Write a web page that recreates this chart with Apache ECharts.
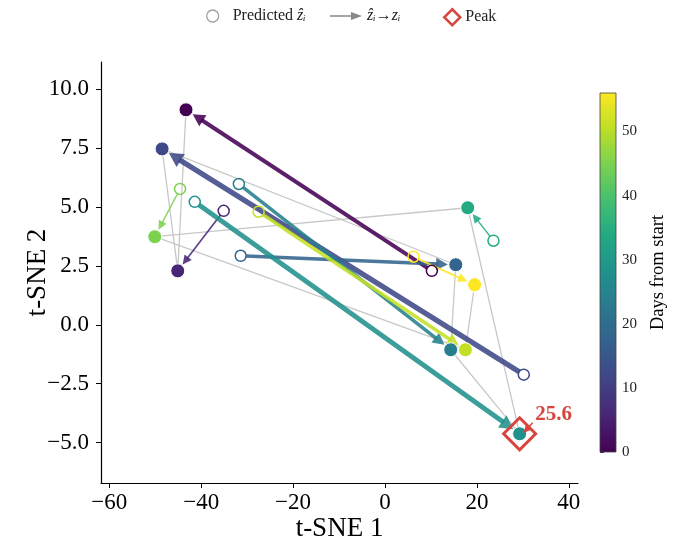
<!DOCTYPE html>
<html>
<head>
<meta charset="utf-8">
<script src="https://cdn.jsdelivr.net/npm/echarts@6/dist/echarts.min.js"></script>
<style>
  html, body { margin: 0; padding: 0; background: #fff; }
  #chart { width: 686px; height: 546px; }
</style>
</head>
<body>
<div id="chart"></div>
<script>
// 时间顺序的数据 (actual z_i, predicted ẑ_i)
const days    = [0, 6, 12, 18, 24, 28, 34, 45, 51, 56];
const actualX = [-43.3, -45.1, -48.5, 15.4, 14.3, 29.3, 18.0, -50.1, 17.5, 19.5];
const actualY = [9.13, 2.29, 7.47, 2.55, -1.06, -4.63, 4.97, 3.74, -1.06, 1.70];
const predX   = [10.2, -35.1, 30.2, -31.4, -31.8, -41.4, 23.6, -44.6, -27.5, 6.2];
const predY   = [2.29, 4.84, -2.12, 2.93, 5.98, 5.22, 3.57, 5.77, 4.80, 2.89];
const peakIndex = 5;
const peakLabel = '25.6';
const xTicks = [-60, -40, -20, 0, 20, 40];
const yTicks = [-5, -2.5, 0, 2.5, 5, 7.5, 10];
const dayMax = 56;

const FONT = '"Liberation Serif", "DejaVu Serif", serif';
const PEAK_RED = '#d6463f';

// viridis
const viridis = ['#440154', '#482475', '#414487', '#355f8d', '#2a788e', '#21918c',
                 '#22a884', '#44bf70', '#7ad151', '#bddf26', '#fde725'];
function hex2rgb(h) {
    return [parseInt(h.slice(1, 3), 16), parseInt(h.slice(3, 5), 16), parseInt(h.slice(5, 7), 16)];
}
function cmap(t, alpha) {
    t = Math.max(0, Math.min(1, t));
    const f = t * (viridis.length - 1);
    const i = Math.min(Math.floor(f), viridis.length - 2);
    const k = f - i;
    const a = hex2rgb(viridis[i]), b = hex2rgb(viridis[i + 1]);
    const c = a.map((v, j) => Math.round(v + (b[j] - v) * k));
    return alpha == null ? 'rgb(' + c.join(',') + ')' : 'rgba(' + c.join(',') + ',' + alpha + ')';
}
const colorOf = i => cmap(days[i] / dayMax);

const fmtMinus = (v, d) => (v < 0 ? '\u2212' : '') + Math.abs(v).toFixed(d);

const pairs = days.map((d, i) => [predX[i], predY[i], actualX[i], actualY[i], d]);

// 箭头 ẑ_i -> z_i
function renderArrow(params, api) {
    const p0 = api.coord([api.value(0), api.value(1)]);
    const p1 = api.coord([api.value(2), api.value(3)]);
    const dist = Math.hypot(api.value(2) - api.value(0), api.value(3) - api.value(1));
    const w = 1.1 + dist * 0.053;
    const dx = p1[0] - p0[0], dy = p1[1] - p0[1];
    const len = Math.hypot(dx, dy);
    const ux = dx / len, uy = dy / len;
    const s = [p0[0] + ux * 5, p0[1] + uy * 5];
    const tip = [p1[0] - ux * 8, p1[1] - uy * 8];
    const hl = 7 + w * 1.3, hw = 3 + w * 0.9;
    const base = [tip[0] - ux * hl, tip[1] - uy * hl];
    const color = cmap(api.value(4) / dayMax, 0.88);
    return {
        type: 'group',
        children: [{
            type: 'line',
            shape: { x1: s[0], y1: s[1], x2: base[0] + ux * 2, y2: base[1] + uy * 2 },
            style: { stroke: color, lineWidth: w }
        }, {
            type: 'polygon',
            shape: { points: [tip, [base[0] - uy * hw, base[1] + ux * hw], [base[0] + uy * hw, base[1] - ux * hw]] },
            style: { fill: color }
        }]
    };
}

// colorbar
function renderColorbar(params, api) {
    const p0 = api.coord([0, 0]);
    const p1 = api.coord([1, dayMax]);
    const stops = viridis.map((c, i) => ({ offset: i / (viridis.length - 1), color: c }));
    return {
        type: 'rect',
        shape: { x: p0[0], y: p1[1], width: p1[0] - p0[0], height: p0[1] - p1[1] },
        style: {
            fill: new echarts.graphic.LinearGradient(0, 1, 0, 0, stops),
            stroke: '#444', lineWidth: 0.8
        }
    };
}

// peak 标注的小箭头
function renderPeakArrow(params, api) {
    const p = api.coord([api.value(0), api.value(1)]);
    const tail = [p[0] + 13, p[1] - 11];
    const tip = [p[0] + 4, p[1] - 1];
    const ux = (tip[0] - tail[0]), uy = (tip[1] - tail[1]);
    const l = Math.hypot(ux, uy);
    const nx = ux / l, ny = uy / l;
    const base = [tip[0] - nx * 7, tip[1] - ny * 7];
    return {
        type: 'group',
        children: [{
            type: 'line',
            shape: { x1: tail[0], y1: tail[1], x2: base[0], y2: base[1] },
            style: { stroke: PEAK_RED, lineWidth: 1.5 }
        }, {
            type: 'polygon',
            shape: { points: [tip, [base[0] - ny * 3.5, base[1] + nx * 3.5], [base[0] + ny * 3.5, base[1] - nx * 3.5]] },
            style: { fill: PEAK_RED }
        }]
    };
}

const NAME_PRED = 'Predicted ẑᵢ';
const NAME_ARROW = 'ẑᵢ→zᵢ';
const NAME_PEAK = 'Peak';

const legendText = {
    fontFamily: FONT, fontSize: 16, color: '#222',
    rich: { m: { fontFamily: FONT, fontStyle: 'italic', fontSize: 16, color: '#222' } }
};
const legendFmt = name => {
    if (name === NAME_PRED) return 'Predicted {m|ẑᵢ}';
    if (name === NAME_ARROW) return '{m|ẑᵢ}→{m|zᵢ}';
    return name;
};

const option = {
    animation: false,
    textStyle: { fontFamily: FONT },
    legend: [{
        top: 3, left: 201, itemWidth: 30, itemHeight: 12,
        textStyle: legendText, formatter: legendFmt,
        data: [{ name: NAME_PRED, icon: 'circle', itemStyle: { color: 'rgba(0,0,0,0)', borderColor: '#888', borderWidth: 1.3 } }]
    }, {
        top: 3, left: 325, itemWidth: 32, itemHeight: 9,
        textStyle: legendText, formatter: legendFmt,
        data: [{ name: NAME_ARROW, icon: 'path://M0,3.3 H21 V0 L32,4 L21,8 V4.7 H0 Z', itemStyle: { color: '#888' } }]
    }, {
        top: 3, left: 438, itemWidth: 16, itemHeight: 16,
        textStyle: legendText, formatter: legendFmt,
        data: [{ name: NAME_PEAK, icon: 'diamond', itemStyle: { color: 'rgba(0,0,0,0)', borderColor: PEAK_RED, borderWidth: 2.5 } }]
    }],
    grid: [
        { left: 101, right: 108, top: 62, bottom: 63, outerBoundsMode: 'none' },
        { left: 600, width: 16, top: 93, bottom: 94, outerBoundsMode: 'none' }
    ],
    xAxis: [{
        type: 'value',
        min: -61.8, max: 42,
        name: 't-SNE 1', nameLocation: 'middle', nameGap: 32, nameMoveOverlap: false,
        nameTextStyle: { fontFamily: FONT, fontSize: 27, color: '#000' },
        axisLine: { onZero: false, lineStyle: { color: '#000', width: 1.2 } },
        axisTick: { show: true, length: 5, customValues: xTicks, lineStyle: { color: '#000' } },
        axisLabel: { customValues: xTicks, margin: 8, fontFamily: FONT, fontSize: 23, color: '#000', formatter: v => fmtMinus(v, 0) },
        splitLine: { show: false }
    }, {
        gridIndex: 1, type: 'value', min: 0, max: 1, show: false
    }],
    yAxis: [{
        type: 'value',
        min: -6.72, max: 11.16,
        name: 't-SNE 2', nameLocation: 'middle', nameGap: 50, nameRotate: 90, nameMoveOverlap: false,
        nameTextStyle: { fontFamily: FONT, fontSize: 27, color: '#000' },
        axisLine: { show: true, onZero: false, lineStyle: { color: '#000', width: 1.2 } },
        axisTick: { show: true, length: 5, customValues: yTicks, lineStyle: { color: '#000' } },
        axisLabel: { customValues: yTicks, margin: 12, fontFamily: FONT, fontSize: 23, color: '#000', formatter: v => fmtMinus(v, 1) },
        splitLine: { show: false }
    }, {
        gridIndex: 1, type: 'value', min: 0, max: dayMax, interval: 10, position: 'right',
        name: 'Days from start', nameLocation: 'middle', nameGap: 33, nameRotate: 90, nameMoveOverlap: false,
        nameTextStyle: { fontFamily: FONT, fontSize: 18.5, color: '#000' },
        axisLine: { show: false },
        axisTick: { show: true, length: 4, lineStyle: { color: '#333' } },
        axisLabel: { margin: 6, fontFamily: FONT, fontSize: 15, color: '#222', showMaxLabel: false },
        splitLine: { show: false }
    }],
    series: [{
        // 时间顺序连接
        type: 'line',
        name: 'trajectory',
        data: days.map((d, i) => [actualX[i], actualY[i]]),
        symbol: 'none',
        lineStyle: { color: '#c8c8c8', width: 1.3 },
        z: 1,
        silent: true
    }, {
        type: 'custom',
        name: NAME_ARROW,
        renderItem: renderArrow,
        data: pairs,
        encode: { x: [0, 2], y: [1, 3] },
        itemStyle: { color: '#888' },
        z: 2
    }, {
        type: 'scatter',
        name: NAME_PRED,
        symbol: 'circle',
        symbolSize: 11,
        data: days.map((d, i) => ({
            value: [predX[i], predY[i]],
            itemStyle: { color: 'rgba(255,255,255,0)', borderColor: colorOf(i), borderWidth: 1.5, opacity: 1 }
        })),
        z: 3
    }, {
        type: 'scatter',
        name: 'actual',
        symbol: 'circle',
        symbolSize: 14,
        data: days.map((d, i) => ({
            value: [actualX[i], actualY[i], d],
            itemStyle: { color: colorOf(i), borderColor: '#fff', borderWidth: 1, opacity: 1 }
        })),
        z: 4
    }, {
        type: 'scatter',
        name: NAME_PEAK,
        symbol: 'diamond',
        symbolSize: 32,
        itemStyle: { color: 'rgba(0,0,0,0)', borderColor: PEAK_RED, borderWidth: 3, opacity: 1 },
        label: {
            show: true, position: 'inside', offset: [34, -19],
            formatter: peakLabel,
            fontFamily: FONT, fontSize: 21, fontWeight: 'bold', color: PEAK_RED
        },
        data: [[actualX[peakIndex], actualY[peakIndex]]],
        z: 5
    }, {
        type: 'custom',
        name: 'peakArrow',
        renderItem: renderPeakArrow,
        data: [[actualX[peakIndex], actualY[peakIndex]]],
        z: 6,
        silent: true
    }, {
        type: 'custom',
        name: 'colorbar',
        xAxisIndex: 1, yAxisIndex: 1,
        renderItem: renderColorbar,
        data: [[0, 0]],
        silent: true
    }]
};

const chart = echarts.init(document.getElementById('chart'));
chart.setOption(option);
window.addEventListener('resize', () => chart.resize());
</script>
</body>
</html>
